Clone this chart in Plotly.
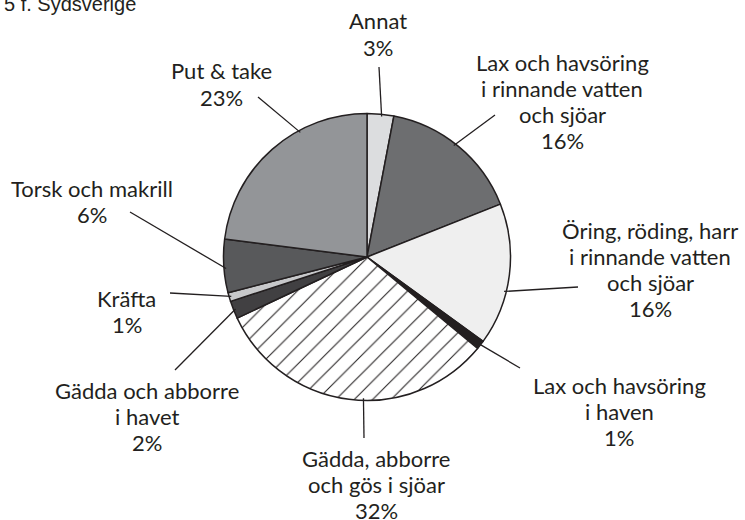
import math
import plotly.graph_objects as go

# ---- data ----
categories = [
    ["Annat"],
    ["Lax och havsöring", "i rinnande vatten", "och sjöar"],
    ["Öring, röding, harr", "i rinnande vatten", "och sjöar"],
    ["Lax och havsöring", "i haven"],
    ["Gädda, abborre", "och gös i sjöar"],
    ["Gädda och abborre", "i havet"],
    ["Kräfta"],
    ["Torsk och makrill"],
    ["Put & take"],
]
shares = [3, 16, 16, 1, 32, 2, 1, 6, 23]
title_text = "5 f. Sydsverige"

# ---- style ----
W, H = 745, 520
colors = ["#dcdddf", "#6d6e70", "#efefef", "#231f20", "#ffffff",
          "#414042", "#c7c8ca", "#58595b", "#939598"]
patterns = ["", "", "", "", "/", "", "", "", ""]
CX, CY, R = 367, 257, 143.5
INK = "#231f20"
FONT = "Lato"
FSIZE = 22
LINE_H = 26.3

# label layout: centre of first text line (px), leader outer end (px), anchor fraction in slice
label_top = [(378, 21), (562, 62), (650, 230), (619, 385), (376, 458),
             (147, 390), (127, 298), (92, 188), (221, 71)]
line_outer = [(379, 67), (495, 115), (578, 287), (520, 368), (364, 438),
              (175, 370), (170, 293), (130, 212), (258, 97)]
anchor_frac = [0.55, 0.47, 0.62, 0.5, 0.45, 0.5, 0.5, 0.45, 0.66]


def px2paper(x, y):
    return x / W, 1 - y / H


fig = go.Figure(go.Pie(
    labels=[" ".join(c) for c in categories],
    values=shares,
    sort=False,
    direction="clockwise",
    rotation=0,
    textinfo="none",
    showlegend=False,
    marker=dict(
        colors=colors,
        line=dict(color=INK, width=1.5),
        pattern=dict(shape=patterns, fgcolor=INK, size=13, solidity=0.08),
    ),
    domain=dict(x=[(CX - R) / W, (CX + R) / W],
                y=[1 - (CY + R) / H, 1 - (CY - R) / H]),
))

total = sum(shares)
shapes = []
annotations = []
cum = 0
for i, v in enumerate(shares):
    a0 = cum / total * 360
    a1 = (cum + v) / total * 360
    cum += v
    ang = math.radians(a0 + (a1 - a0) * anchor_frac[i])
    ix = CX + 0.985 * R * math.sin(ang)
    iy = CY - 0.985 * R * math.cos(ang)
    ox, oy = line_outer[i]
    x0, y0 = px2paper(ix, iy)
    x1, y1 = px2paper(ox, oy)
    shapes.append(dict(type="line", xref="paper", yref="paper",
                       x0=x0, y0=y0, x1=x1, y1=y1,
                       line=dict(color=INK, width=1.3), layer="above"))
    lines = categories[i] + [f"{v}%"]
    lx, ly = label_top[i]
    for k, txt in enumerate(lines):
        tx, ty = px2paper(lx, ly + k * LINE_H)
        annotations.append(dict(
            x=tx, y=ty, xref="paper", yref="paper", showarrow=False,
            text=txt, xanchor="center", yanchor="middle",
            font=dict(family=FONT, size=FSIZE, color=INK)))

annotations.append(dict(
    x=0.003, y=1 - 4.5 / H, xref="paper", yref="paper", showarrow=False,
    text=title_text, xanchor="left", yanchor="middle",
    font=dict(family="Liberation Sans", size=20, color=INK)))

fig.update_layout(
    width=W, height=H,
    margin=dict(l=0, r=0, t=0, b=0),
    paper_bgcolor="white", plot_bgcolor="white",
    shapes=shapes, annotations=annotations,
)

fig.write_html("out.html",
               config={"displayModeBar": False},
               post_script="document.body.style.margin='0';document.body.style.overflow='hidden';")
